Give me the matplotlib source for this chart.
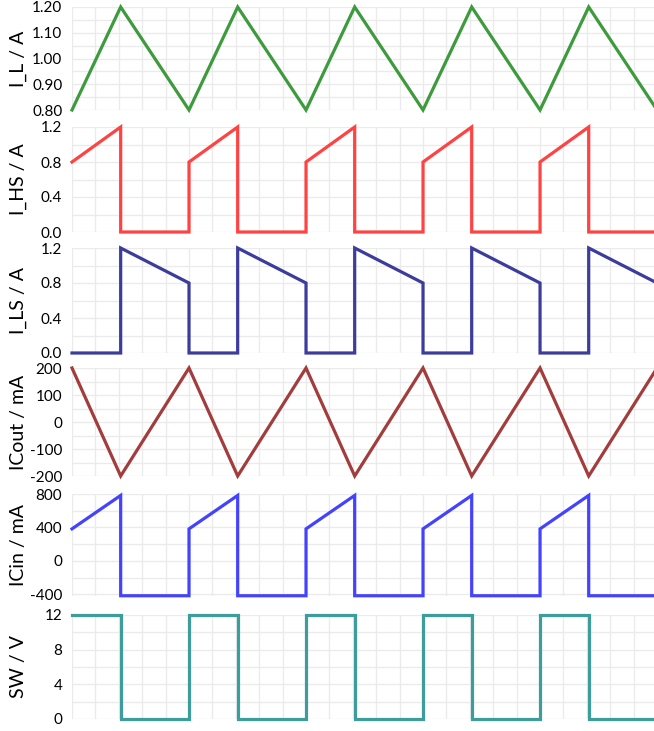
import matplotlib
matplotlib.use('Agg')
from matplotlib import pyplot as plt
from matplotlib.ticker import MultipleLocator

plt.rcParams['font.family'] = ['Lato', 'DejaVu Sans']

# corner times of the triangle waves (one period = 5 grid units, duty 5/12)
t_tri = [0, 2.08, 5, 7.08, 10, 12.08, 15, 17.08, 20, 22.08, 25]
i_l = [0.8, 1.2, 0.8, 1.2, 0.8, 1.2, 0.8, 1.2, 0.8, 1.2, 0.8]
i_cout = [200, -200, 200, -200, 200, -200, 200, -200, 200, -200, 200]

# corner times of the switched waveforms
t_sw = [0, 2.08, 2.08, 5, 5, 7.08, 7.08, 10, 10, 12.08, 12.08, 15, 15,
        17.08, 17.08, 20, 20, 22.08, 22.08, 25, 25]
i_hs = [0.8, 1.2, 0, 0, 0.8, 1.2, 0, 0, 0.8, 1.2, 0, 0, 0.8,
        1.2, 0, 0, 0.8, 1.2, 0, 0, 0.8]
i_ls = [0, 0, 1.2, 0.8, 0, 0, 1.2, 0.8, 0, 0, 1.2, 0.8, 0,
        0, 1.2, 0.8, 0, 0, 1.2, 0.8, 0]
i_cin = [383, 783, -417, -417, 383, 783, -417, -417, 383, 783, -417, -417, 383,
         783, -417, -417, 383, 783, -417, -417, 383]
v_sw = [12, 12, 0, 0, 12, 12, 0, 0, 12, 12, 0, 0, 12,
        12, 0, 0, 12, 12, 0, 0, 12]

panels = [
    ('I_L / A', t_tri, i_l, '#3d9b3d', (0.8, 1.2), 0.1, 0.05, '{:.2f}'),
    ('I_HS / A', t_sw, i_hs, '#ff4343', (0.0, 1.2), 0.4, 0.2, '{:.1f}'),
    ('I_LS / A', t_sw, i_ls, '#3c3c9c', (0.0, 1.2), 0.4, 0.2, '{:.1f}'),
    ('ICout / mA', t_tri, i_cout, '#a33c3c', (-200, 200), 100, 50, '{:.0f}'),
    ('ICin / mA', t_sw, i_cin, '#4343ff', (-420, 800), 400, 200, '{:.0f}'),
    ('SW / V', t_sw, v_sw, '#3d9d9d', (0, 12), 4, 2, '{:.0f}'),
]

W, H = 654, 731
fig = plt.figure(figsize=(W/100, H/100), dpi=100)

tops = [7, 127, 248, 368, 494, 615]
bottoms = [110, 232, 353, 476, 596, 719]
left, right = 72, 654

for (label, t, y, color, ylim, major, minor, fmt), top, bot in zip(panels, tops, bottoms):
    ax = fig.add_axes([left/W, 1-bot/H, (right-left)/W, (bot-top)/H])
    ax.plot(t, y, color=color, lw=2.3, solid_joinstyle='miter', clip_on=False, zorder=3)
    ax.set_xlim(0, 24.87)
    ax.set_ylim(*ylim)
    ax.xaxis.set_major_locator(MultipleLocator(1))
    ax.yaxis.set_major_locator(MultipleLocator(major))
    ax.yaxis.set_minor_locator(MultipleLocator(minor))
    ax.grid(True, which='both', color='#ebebeb', lw=1)
    ax.set_axisbelow(True)
    ax.tick_params(length=0, labelsize=11, pad=7)
    ax.tick_params(axis='y', which='minor', length=0)
    ax.set_xticklabels([])
    ticks = [v for v in ax.get_yticks() if ylim[0]-1e-9 <= v <= ylim[1]+1e-9]
    ax.set_yticks(ticks)
    ax.set_yticklabels([fmt.format(v) for v in ticks])
    for s in ax.spines.values():
        s.set_visible(False)
    ax.set_ylabel(label, fontsize=14)
    ax.yaxis.set_label_coords(-(left-27)/(right-left), 0.5)

fig.savefig('out.png', dpi=100)
